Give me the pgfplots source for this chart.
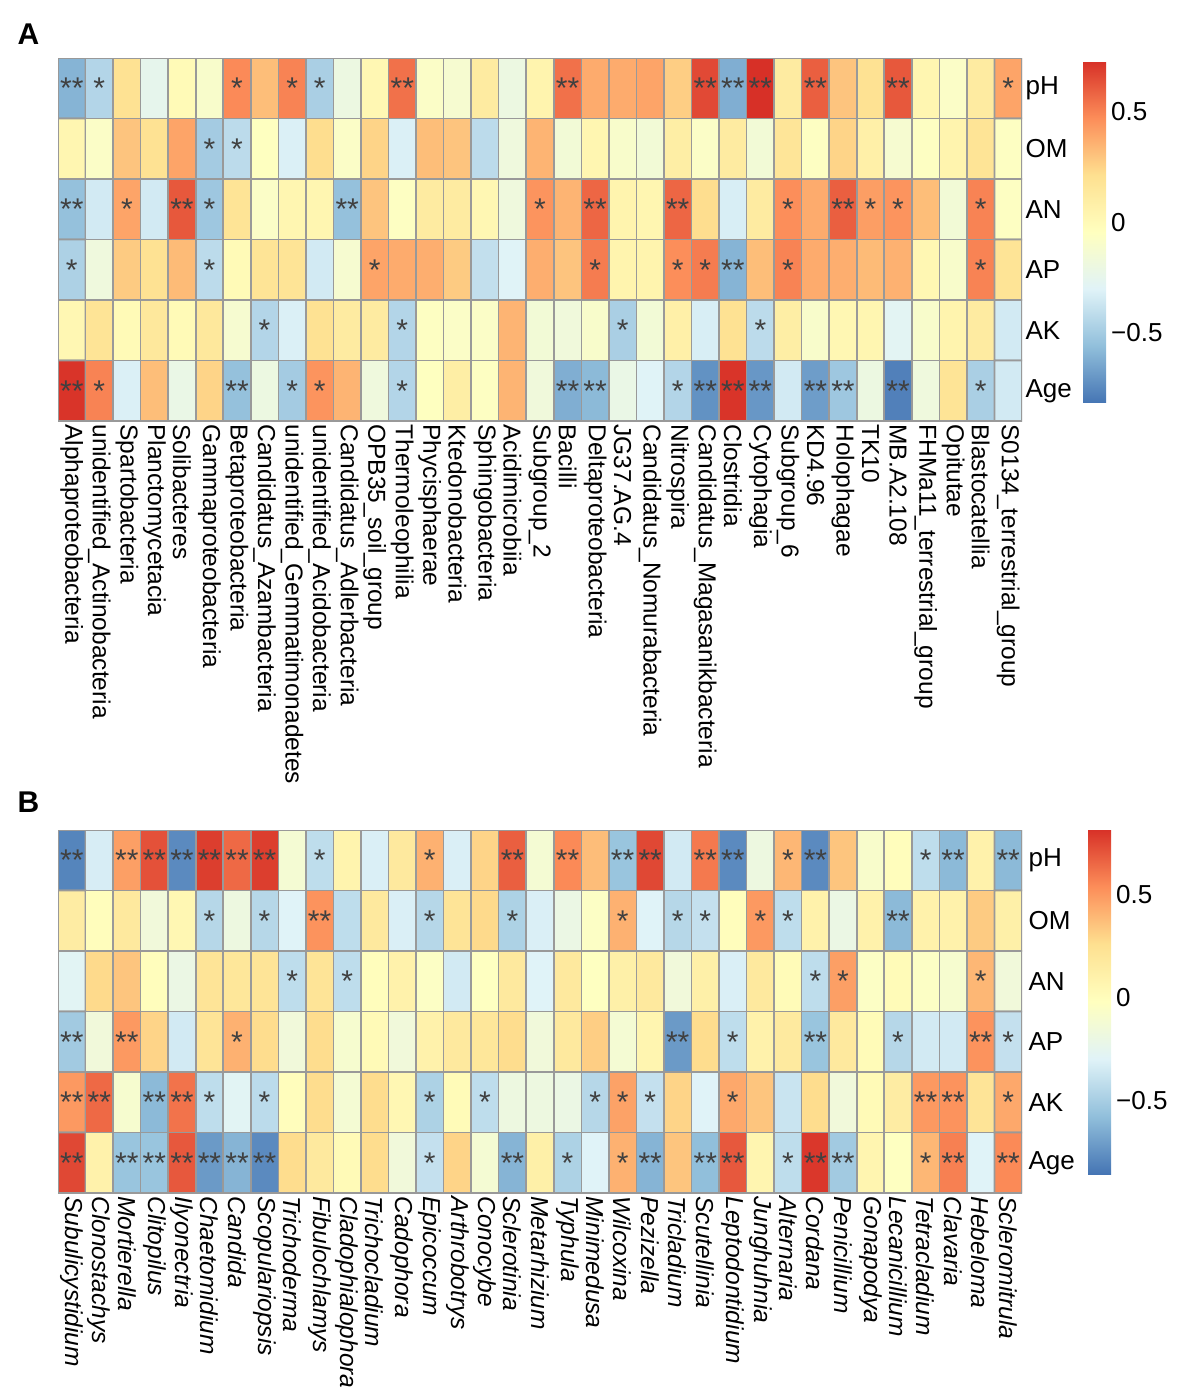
\documentclass[border=0pt]{standalone}
\usepackage{fontspec}
\setmainfont{Liberation Sans}
\usepackage{pgfplots}
\usepackage{pgfplotstable}
\pgfplotsset{compat=1.18}

% correlation values: column, row (1 pH, 2 OM, 3 AN, 4 AP, 5 AK, 6 Age), value
\pgfplotstableread[row sep=\\]{
x y v\\
1 1 -0.60\\ 2 1 -0.45\\ 3 1 0.20\\ 4 1 -0.25\\ 5 1 0.00\\ 6 1 -0.10\\ 7 1 0.48\\ 8 1 0.32\\ 9 1 0.50\\ 10 1 -0.48\\ 11 1 -0.20\\ 12 1 0.02\\ 13 1 0.55\\ 14 1 -0.08\\ 15 1 -0.12\\ 16 1 0.12\\ 17 1 -0.20\\ 18 1 0.05\\ 19 1 0.55\\ 20 1 0.38\\ 21 1 0.38\\ 22 1 0.40\\ 23 1 0.27\\ 24 1 0.66\\ 25 1 -0.62\\ 26 1 0.73\\ 27 1 0.12\\ 28 1 0.60\\ 29 1 0.30\\ 30 1 0.20\\ 31 1 0.62\\ 32 1 0.03\\ 33 1 -0.08\\ 34 1 0.12\\ 35 1 0.40\\
1 2 0.03\\ 2 2 -0.08\\ 3 2 0.30\\ 4 2 0.20\\ 5 2 0.40\\ 6 2 -0.50\\ 7 2 -0.42\\ 8 2 -0.05\\ 9 2 -0.32\\ 10 2 0.22\\ 11 2 -0.08\\ 12 2 0.25\\ 13 2 -0.32\\ 14 2 0.32\\ 15 2 0.30\\ 16 2 -0.42\\ 17 2 -0.18\\ 18 2 0.35\\ 19 2 -0.15\\ 20 2 0.03\\ 21 2 -0.10\\ 22 2 -0.15\\ 23 2 0.10\\ 24 2 -0.08\\ 25 2 0.12\\ 26 2 -0.15\\ 27 2 0.17\\ 28 2 -0.06\\ 29 2 0.25\\ 30 2 0.08\\ 31 2 -0.12\\ 32 2 -0.06\\ 33 2 0.05\\ 34 2 0.18\\ 35 2 -0.06\\
1 3 -0.55\\ 2 3 -0.35\\ 3 3 0.40\\ 4 3 -0.35\\ 5 3 0.62\\ 6 3 -0.52\\ 7 3 0.18\\ 8 3 -0.08\\ 9 3 0.03\\ 10 3 0.03\\ 11 3 -0.55\\ 12 3 0.30\\ 13 3 -0.06\\ 14 3 0.12\\ 15 3 0.12\\ 16 3 0.02\\ 17 3 -0.18\\ 18 3 0.45\\ 19 3 0.35\\ 20 3 0.58\\ 21 3 0.05\\ 22 3 0.03\\ 23 3 0.58\\ 24 3 0.22\\ 25 3 -0.33\\ 26 3 0.12\\ 27 3 0.47\\ 28 3 0.38\\ 29 3 0.60\\ 30 3 0.42\\ 31 3 0.45\\ 32 3 0.32\\ 33 3 -0.15\\ 34 3 0.50\\ 35 3 -0.06\\
1 4 -0.47\\ 2 4 -0.18\\ 3 4 0.28\\ 4 4 0.20\\ 5 4 0.33\\ 6 4 -0.42\\ 7 4 0.00\\ 8 4 0.18\\ 9 4 0.18\\ 10 4 -0.35\\ 11 4 -0.12\\ 12 4 0.40\\ 13 4 0.38\\ 14 4 0.37\\ 15 4 0.28\\ 16 4 -0.40\\ 17 4 -0.30\\ 18 4 0.37\\ 19 4 0.30\\ 20 4 0.52\\ 21 4 0.05\\ 22 4 0.05\\ 23 4 0.47\\ 24 4 0.52\\ 25 4 -0.60\\ 26 4 0.32\\ 27 4 0.50\\ 28 4 0.38\\ 29 4 0.37\\ 30 4 0.33\\ 31 4 0.36\\ 32 4 0.02\\ 33 4 -0.10\\ 34 4 0.50\\ 35 4 0.18\\
1 5 0.02\\ 2 5 0.18\\ 3 5 0.00\\ 4 5 0.15\\ 5 5 0.00\\ 6 5 0.15\\ 7 5 -0.12\\ 8 5 -0.45\\ 9 5 -0.32\\ 10 5 0.20\\ 11 5 0.12\\ 12 5 0.12\\ 13 5 -0.45\\ 14 5 -0.06\\ 15 5 -0.08\\ 16 5 -0.08\\ 17 5 0.35\\ 18 5 -0.15\\ 19 5 -0.17\\ 20 5 -0.10\\ 21 5 -0.48\\ 22 5 -0.15\\ 23 5 0.08\\ 24 5 -0.33\\ 25 5 0.20\\ 26 5 -0.42\\ 27 5 0.10\\ 28 5 -0.10\\ 29 5 0.02\\ 30 5 0.03\\ 31 5 -0.28\\ 32 5 -0.10\\ 33 5 0.05\\ 34 5 0.12\\ 35 5 -0.35\\
1 6 0.72\\ 2 6 0.50\\ 3 6 -0.32\\ 4 6 0.32\\ 5 6 -0.22\\ 6 6 0.25\\ 7 6 -0.55\\ 8 6 -0.20\\ 9 6 -0.50\\ 10 6 0.45\\ 11 6 0.35\\ 12 6 -0.18\\ 13 6 -0.45\\ 14 6 -0.05\\ 15 6 0.10\\ 16 6 -0.06\\ 17 6 0.35\\ 18 6 -0.17\\ 19 6 -0.62\\ 20 6 -0.58\\ 21 6 -0.22\\ 22 6 -0.30\\ 23 6 -0.45\\ 24 6 -0.72\\ 25 6 0.72\\ 26 6 -0.70\\ 27 6 -0.35\\ 28 6 -0.68\\ 29 6 -0.52\\ 30 6 -0.20\\ 31 6 -0.78\\ 32 6 -0.18\\ 33 6 0.18\\ 34 6 -0.48\\ 35 6 -0.35\\
}\tabA

\pgfplotstableread[row sep=\\]{
x y v\\
1 1 -0.80\\ 2 1 -0.33\\ 3 1 0.48\\ 4 1 0.72\\ 5 1 -0.78\\ 6 1 0.78\\ 7 1 0.65\\ 8 1 0.78\\ 9 1 -0.12\\ 10 1 -0.42\\ 11 1 0.08\\ 12 1 -0.32\\ 13 1 0.18\\ 14 1 0.42\\ 15 1 -0.32\\ 16 1 0.30\\ 17 1 0.68\\ 18 1 -0.12\\ 19 1 0.55\\ 20 1 0.38\\ 21 1 -0.55\\ 22 1 0.75\\ 23 1 -0.35\\ 24 1 0.60\\ 25 1 -0.78\\ 26 1 -0.18\\ 27 1 0.40\\ 28 1 -0.78\\ 29 1 0.35\\ 30 1 -0.08\\ 31 1 0.00\\ 32 1 -0.42\\ 33 1 -0.60\\ 34 1 0.10\\ 35 1 -0.60\\
1 2 0.15\\ 2 2 0.00\\ 3 2 0.18\\ 4 2 -0.15\\ 5 2 0.05\\ 6 2 -0.45\\ 7 2 -0.18\\ 8 2 -0.45\\ 9 2 -0.30\\ 10 2 0.52\\ 11 2 -0.42\\ 12 2 0.18\\ 13 2 -0.32\\ 14 2 -0.45\\ 15 2 0.22\\ 16 2 0.28\\ 17 2 -0.48\\ 18 2 -0.32\\ 19 2 -0.20\\ 20 2 -0.05\\ 21 2 0.42\\ 22 2 -0.30\\ 23 2 -0.45\\ 24 2 -0.40\\ 25 2 0.00\\ 26 2 0.50\\ 27 2 -0.42\\ 28 2 0.10\\ 29 2 -0.20\\ 30 2 0.10\\ 31 2 -0.60\\ 32 2 0.10\\ 33 2 0.10\\ 34 2 0.33\\ 35 2 0.12\\
1 3 -0.28\\ 2 3 0.28\\ 3 3 0.35\\ 4 3 0.00\\ 5 3 -0.20\\ 6 3 0.22\\ 7 3 0.20\\ 8 3 0.22\\ 9 3 -0.42\\ 10 3 0.22\\ 11 3 -0.42\\ 12 3 0.00\\ 13 3 0.10\\ 14 3 -0.05\\ 15 3 -0.35\\ 16 3 -0.03\\ 17 3 0.18\\ 18 3 -0.30\\ 19 3 0.18\\ 20 3 -0.03\\ 21 3 0.12\\ 22 3 0.18\\ 23 3 -0.15\\ 24 3 0.12\\ 25 3 -0.32\\ 26 3 0.18\\ 27 3 0.02\\ 28 3 -0.42\\ 29 3 0.48\\ 30 3 -0.05\\ 31 3 0.02\\ 32 3 -0.05\\ 33 3 -0.10\\ 34 3 0.40\\ 35 3 -0.15\\
1 4 -0.52\\ 2 4 -0.15\\ 3 4 0.50\\ 4 4 0.30\\ 5 4 -0.35\\ 6 4 0.22\\ 7 4 0.42\\ 8 4 0.27\\ 9 4 -0.15\\ 10 4 0.27\\ 11 4 -0.10\\ 12 4 0.03\\ 13 4 -0.15\\ 14 4 0.10\\ 15 4 0.18\\ 16 4 0.20\\ 17 4 0.27\\ 18 4 -0.15\\ 19 4 0.18\\ 20 4 0.32\\ 21 4 -0.12\\ 22 4 0.07\\ 23 4 -0.72\\ 24 4 0.27\\ 25 4 -0.42\\ 26 4 0.10\\ 27 4 0.17\\ 28 4 -0.55\\ 29 4 0.18\\ 30 4 0.02\\ 31 4 -0.45\\ 32 4 -0.35\\ 33 4 -0.35\\ 34 4 0.52\\ 35 4 -0.40\\
1 5 0.50\\ 2 5 0.65\\ 3 5 -0.10\\ 4 5 -0.60\\ 5 5 0.62\\ 6 5 -0.42\\ 7 5 -0.28\\ 8 5 -0.43\\ 9 5 0.00\\ 10 5 0.27\\ 11 5 -0.12\\ 12 5 0.27\\ 13 5 0.05\\ 14 5 -0.48\\ 15 5 0.02\\ 16 5 -0.42\\ 17 5 -0.18\\ 18 5 -0.18\\ 19 5 -0.20\\ 20 5 -0.45\\ 21 5 0.47\\ 22 5 -0.40\\ 23 5 0.30\\ 24 5 -0.30\\ 25 5 0.45\\ 26 5 0.35\\ 27 5 -0.38\\ 28 5 0.27\\ 29 5 -0.15\\ 30 5 0.03\\ 31 5 0.15\\ 32 5 0.50\\ 33 5 0.52\\ 34 5 0.22\\ 35 5 0.45\\
1 6 0.75\\ 2 6 0.10\\ 3 6 -0.55\\ 4 6 -0.55\\ 5 6 0.70\\ 6 6 -0.72\\ 7 6 -0.62\\ 8 6 -0.78\\ 9 6 0.27\\ 10 6 0.18\\ 11 6 0.03\\ 12 6 0.27\\ 13 6 -0.15\\ 14 6 -0.40\\ 15 6 0.30\\ 16 6 -0.12\\ 17 6 -0.62\\ 18 6 0.12\\ 19 6 -0.48\\ 20 6 -0.30\\ 21 6 0.42\\ 22 6 -0.62\\ 23 6 0.35\\ 24 6 -0.58\\ 25 6 0.70\\ 26 6 0.07\\ 27 6 -0.42\\ 28 6 0.80\\ 29 6 -0.52\\ 30 6 0.07\\ 31 6 -0.03\\ 32 6 0.40\\ 33 6 0.58\\ 34 6 -0.30\\ 35 6 0.55\\
}\tabB

% significance marks (column, row, label)
\pgfplotstableread{
x y s
1 1 **
2 1 *
7 1 *
9 1 *
10 1 *
13 1 **
19 1 **
24 1 **
25 1 **
26 1 **
28 1 **
31 1 **
35 1 *
6 2 *
7 2 *
1 3 **
3 3 *
5 3 **
6 3 *
11 3 **
18 3 *
20 3 **
23 3 **
27 3 *
29 3 **
30 3 *
31 3 *
34 3 *
1 4 *
6 4 *
12 4 *
20 4 *
23 4 *
24 4 *
25 4 **
27 4 *
34 4 *
8 5 *
13 5 *
21 5 *
26 5 *
1 6 **
2 6 *
7 6 **
9 6 *
10 6 *
13 6 *
19 6 **
20 6 **
23 6 *
24 6 **
25 6 **
26 6 **
28 6 **
29 6 **
31 6 **
34 6 *
}\starA

\pgfplotstableread{
x y s
1 1 **
3 1 **
4 1 **
5 1 **
6 1 **
7 1 **
8 1 **
10 1 *
14 1 *
17 1 **
19 1 **
21 1 **
22 1 **
24 1 **
25 1 **
27 1 *
28 1 **
32 1 *
33 1 **
35 1 **
6 2 *
8 2 *
10 2 **
14 2 *
17 2 *
21 2 *
23 2 *
24 2 *
26 2 *
27 2 *
31 2 **
9 3 *
11 3 *
28 3 *
29 3 *
34 3 *
1 4 **
3 4 **
7 4 *
23 4 **
25 4 *
28 4 **
31 4 *
34 4 **
35 4 *
1 5 **
2 5 **
4 5 **
5 5 **
6 5 *
8 5 *
14 5 *
16 5 *
20 5 *
21 5 *
22 5 *
25 5 *
32 5 **
33 5 **
35 5 *
1 6 **
3 6 **
4 6 **
5 6 **
6 6 **
7 6 **
8 6 **
14 6 *
17 6 **
19 6 *
21 6 *
22 6 **
24 6 **
25 6 **
27 6 *
28 6 **
29 6 **
32 6 *
33 6 **
35 6 **
}\starB

\pgfplotsset{
  heat/.style={
    scale only axis, width=964pt, height=363pt,
    xmin=0.5, xmax=35.5, ymin=0.5, ymax=6.5, y dir=reverse,
    axis line style={draw=none}, major tick length=0pt,
    xtick={1,...,35}, ytick={1,...,6},
    yticklabels={pH,OM,AN,AP,AK,Age},
    yticklabel pos=right,
    xticklabel style={rotate=-90, anchor=west, font=\fontsize{24.5}{28}\selectfont},
    yticklabel style={anchor=west, font=\fontsize{26}{30}\selectfont},
    colormap={rdylbu}{rgb255=(69,117,180) rgb255=(145,191,219) rgb255=(224,243,248)
      rgb255=(255,255,191) rgb255=(254,224,144) rgb255=(252,141,89) rgb255=(215,48,39)},
    colorbar, colorbar/width=23pt,
  },
  cbar/.style={
    at={(parent axis.north east)}, anchor=north west,
    ytick={-0.5,0,0.5}, yticklabels={−0.5,0,0.5},
    major tick length=0pt, axis line style={draw=none},
    yticklabel style={font=\fontsize{26}{30}\selectfont, anchor=west,
      inner sep=0pt, xshift=5pt},
  },
  cells/.style={matrix plot*, mesh/cols=35, point meta=explicit,
    draw=gray!80, line width=1.6pt},
  stars/.style={sharp plot, draw=none, mark=none, forget plot, mesh/check=false,
    nodes near coords, point meta=explicit symbolic,
    nodes near coords style={anchor=center, inner sep=0pt,
      font=\fontsize{30}{30}\selectfont, text=black!75}},
}

\begin{document}
\begin{tikzpicture}[font=\fontsize{24}{28}\selectfont]
\useasboundingbox (0pt,0pt) rectangle (1183pt,-1396pt);

\node[anchor=north west, font=\fontsize{30}{30}\selectfont\bfseries] at (14pt,-20pt) {A};
\node[anchor=north west, font=\fontsize{30}{30}\selectfont\bfseries] at (14pt,-788pt) {B};

\begin{axis}[heat, at={(58pt,-58pt)}, anchor=north west,
    point meta min=-0.82, point meta max=0.73,
    xticklabels={Alphaproteobacteria, unidentified\_Actinobacteria, Spartobacteria,
      Planctomycetacia, Solibacteres, Gammaproteobacteria, Betaproteobacteria,
      Candidatus\_Azambacteria, unidentified\_Gemmatimonadetes, unidentified\_Acidobacteria,
      Candidatus\_Adlerbacteria, OPB35\_soil\_group, Thermoleophilia, Phycisphaerae,
      Ktedonobacteria, Sphingobacteria, Acidimicrobiia, Subgroup\_2, Bacilli,
      Deltaproteobacteria, JG37.AG.4, Candidatus\_Nomurabacteria, Nitrospira,
      Candidatus\_Magasanikbacteria, Clostridia, Cytophagia, Subgroup\_6, KD4.96,
      Holophagae, TK10, MB.A2.108, FHMa11\_terrestrial\_group, Opitutae,
      Blastocatellia, S0134\_terrestrial\_group},
    colorbar style={cbar, xshift=52.5pt, yshift=-3pt, height=342pt}]
  \addplot[cells] table[x=x, y=y, meta=v] {\tabA};
  \addplot[stars] table[x=x, y=y, meta=s] {\starA};
\end{axis}

\begin{axis}[heat, at={(58pt,-830pt)}, anchor=north west,
    point meta min=-0.86, point meta max=0.82,
    yticklabel style={xshift=3pt},
    xticklabel style={font=\fontsize{24.5}{28}\selectfont\itshape},
    xticklabels={Subulicystidium, Clonostachys, Mortierella, Clitopilus, Ilyonectria,
      Chaetomidium, Candida, Scopulariopsis, Trichoderma, Fibulochlamys,
      Cladophialophora, Trichocladium, Cadophora, Epicoccum, Arthrobotrys, Conocybe,
      Sclerotinia, Metarhizium, Typhula, Minimedusa, Wilcoxina, Pezizella, Tricladium,
      Scutellinia, Leptodontidium, Junghuhnia, Alternaria, Cordana, Penicillium,
      Gonapodya, Lecanicillium, Tetracladium, Clavaria, Hebeloma, Scleromitrula},
    colorbar style={cbar, xshift=57.5pt, yshift=1pt, height=345pt}]
  \addplot[cells] table[x=x, y=y, meta=v] {\tabB};
  \addplot[stars] table[x=x, y=y, meta=s] {\starB};
\end{axis}
\end{tikzpicture}
\end{document}
